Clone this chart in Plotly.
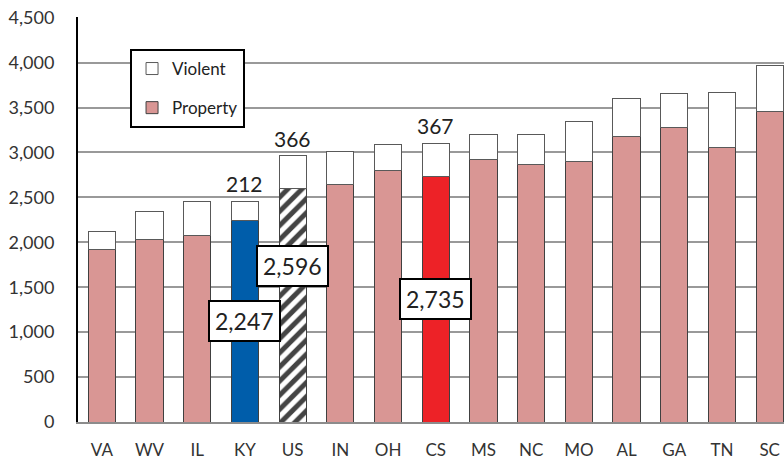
import plotly.graph_objects as go

states = ["VA", "WV", "IL", "KY", "US", "IN", "OH", "CS", "MS", "NC", "MO", "AL", "GA", "TN", "SC"]
property_vals = [1925, 2035, 2075, 2247, 2596, 2648, 2796, 2735, 2920, 2870, 2904, 3175, 3279, 3056, 3461]
violent_vals = [200, 305, 375, 212, 366, 363, 290, 367, 285, 335, 446, 431, 383, 617, 502]
y_ticks = [0, 500, 1000, 1500, 2000, 2500, 3000, 3500, 4000, 4500]

PINK = "#D99694"
BLUE = "#005DAA"
RED = "#ED2227"
FONT = "Lato"

prop_colors = []
pattern_shapes = []
for s in states:
    if s == "KY":
        prop_colors.append(BLUE)
        pattern_shapes.append("")
    elif s == "CS":
        prop_colors.append(RED)
        pattern_shapes.append("")
    elif s == "US":
        prop_colors.append("white")
        pattern_shapes.append("/")
    else:
        prop_colors.append(PINK)
        pattern_shapes.append("")

fig = go.Figure()
fig.add_trace(go.Bar(
    x=states, y=property_vals, name="Property", width=0.57,
    legendgroup="p", showlegend=False,
    marker=dict(color=prop_colors, line=dict(color="#404040", width=1),
                pattern=dict(shape=pattern_shapes, fgcolor="black", bgcolor="white",
                             fgopacity=1, size=10, solidity=0.5)),
))
fig.add_trace(go.Bar(
    x=states, y=violent_vals, name="Violent", width=0.57,
    legendgroup="v",
    marker=dict(color="white", line=dict(color="#595959", width=1)),
))
fig.add_trace(go.Bar(x=[None], y=[None], name="Property", legendgroup="p",
                     marker=dict(color=PINK, line=dict(color="#404040", width=1))))

totals = [p + v for p, v in zip(property_vals, violent_vals)]

annotations = []
for s in ["KY", "US", "CS"]:
    i = states.index(s)
    annotations.append(dict(
        x=s, y=totals[i], text=f"{violent_vals[i]:,}", showarrow=False,
        yanchor="bottom", yshift=3, font=dict(family=FONT, size=21, color="#222"),
    ))

box_y = {"KY": 1124, "US": 1738, "CS": 1367}
for s, yv in box_y.items():
    i = states.index(s)
    annotations.append(dict(
        x=s, y=yv, text=f"{property_vals[i]:,}", showarrow=False,
        font=dict(family=FONT, size=23, color="#222"),
        bgcolor="white", bordercolor="black", borderwidth=2, borderpad=5,
    ))

fig.update_layout(
    barmode="stack",
    width=784, height=459,
    margin=dict(l=78, r=0, t=17, b=37),
    plot_bgcolor="white", paper_bgcolor="white",
    annotations=annotations,
    legend=dict(
        x=0.0737, y=0.921, xanchor="left", yanchor="top",
        traceorder="reversed+grouped", tracegroupgap=14,
        bordercolor="black", borderwidth=2, bgcolor="white",
        font=dict(family=FONT, size=17, color="#222"),
        itemwidth=30,
    ),
    xaxis=dict(
        range=[-0.5, 14.3], showgrid=False, automargin=False,
        showline=True, linecolor="#8c8c8c", linewidth=2,
        tickfont=dict(family=FONT, size=17, color="#333"),
        ticks="", ticklabelstandoff=12,
    ),
    yaxis=dict(
        range=[0, 4508], tickvals=y_ticks, tickformat=",", automargin=False,
        showgrid=True, gridcolor="#999999", gridwidth=2,
        showline=True, linecolor="black", linewidth=2,
        tickfont=dict(family=FONT, size=18, color="#333"),
        ticks="", ticklabelstandoff=18, zeroline=False,
        ticklabeloverflow="allow",
    ),
)

fig.write_html("out.html", config={"displayModeBar": False},
               post_script="document.body.style.margin='0';")
